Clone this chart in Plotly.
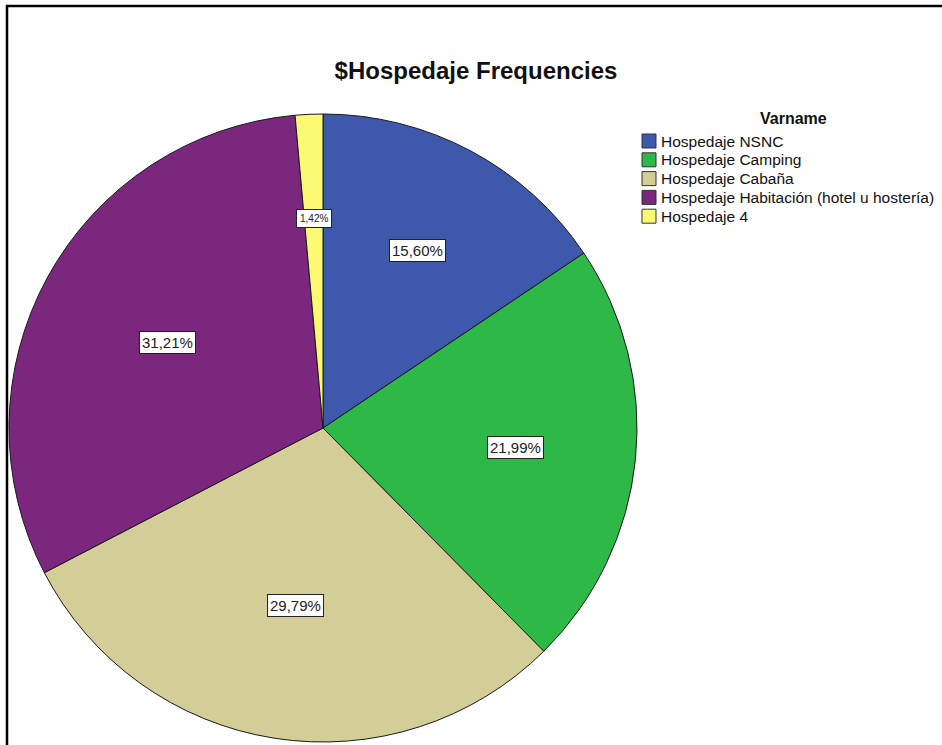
import math
import plotly.graph_objects as go

# Data
categories = ["Hospedaje NSNC", "Hospedaje Camping", "Hospedaje Cabaña",
              "Hospedaje Habitación (hotel u hostería)", "Hospedaje 4"]
counts = [22, 31, 42, 44, 2]
colors = ["#3E58AC", "#2EB848", "#D3CE97", "#7B277D", "#FBF873"]
title_text = "$Hospedaje Frequencies"
legend_title = "Varname"

W, H = 942, 745
cx_px, cy_px, r_px = 323, 428, 314
FONT = "Arial, Liberation Sans, sans-serif"


def px(x):
    return x / W


def py(y):
    return 1 - y / H


fig = go.Figure()
fig.add_trace(go.Pie(
    labels=categories, values=counts, sort=False, direction="clockwise",
    rotation=0, textinfo="none", hoverinfo="label+percent", showlegend=False,
    marker=dict(colors=colors, line=dict(color="#1a1a1a", width=1)),
    domain=dict(x=[px(cx_px - r_px), px(cx_px + r_px)],
                y=[py(cy_px + r_px), py(cy_px - r_px)]),
))

# Percentage labels in boxes, placed at each sector's centroid
total = sum(counts)
cum = 0
annotations = []
for v in counts:
    frac = v / total
    half = frac * math.pi
    mid = (cum + frac / 2) * 2 * math.pi
    cum += frac
    d = r_px * 2 * math.sin(half) / (3 * half)
    x = cx_px + d * math.sin(mid)
    y = cy_px - d * math.cos(mid)
    txt = f"{frac * 100:.2f}%".replace(".", ",")
    small = frac < 0.05
    annotations.append(dict(
        x=px(x), y=py(y), xref="paper", yref="paper", text=txt, showarrow=False,
        font=dict(family=FONT, size=10 if small else 15, color="#222"),
        bgcolor="white", bordercolor="#222", borderwidth=1,
        borderpad=3 if small else 2,
        xanchor="center", yanchor="middle"))

# Legend (drawn to match the original's compact layout)
shapes = []
annotations.append(dict(
    x=px(793), y=py(118), xref="paper", yref="paper",
    text="<b>" + legend_title + "</b>", showarrow=False,
    font=dict(family=FONT, size=16, color="#111"),
    xanchor="center", yanchor="middle"))
row0, step = 141, 18.8
for i, (name, col) in enumerate(zip(categories, colors)):
    yc = row0 + i * step
    shapes.append(dict(type="rect", xref="paper", yref="paper",
                       x0=px(642), x1=px(656), y0=py(yc + 7), y1=py(yc - 7),
                       fillcolor=col, line=dict(color="#333", width=1)))
    annotations.append(dict(
        x=px(659), y=py(yc), xref="paper", yref="paper", text=name,
        showarrow=False, font=dict(family=FONT, size=15.5, color="#111"),
        xanchor="left", yanchor="middle"))

# Outer frame
shapes.append(dict(type="rect", xref="paper", yref="paper",
                   x0=px(7), x1=1.2, y0=-0.2, y1=py(6),
                   line=dict(color="black", width=2.5)))

fig.update_layout(
    width=W, height=H,
    margin=dict(l=0, r=0, t=0, b=0),
    paper_bgcolor="white", plot_bgcolor="white",
    font=dict(family=FONT, color="#111"),
    title=dict(text=title_text, x=px(476), y=py(71), xanchor="center", yanchor="middle",
               font=dict(size=24, family=FONT, color="#111", weight="bold")),
    showlegend=False,
    annotations=annotations,
    shapes=shapes,
)

fig.write_html("out.html", config={"displayModeBar": False},
               post_script="document.body.style.margin='0';"
                           "document.documentElement.style.overflow='hidden';")
